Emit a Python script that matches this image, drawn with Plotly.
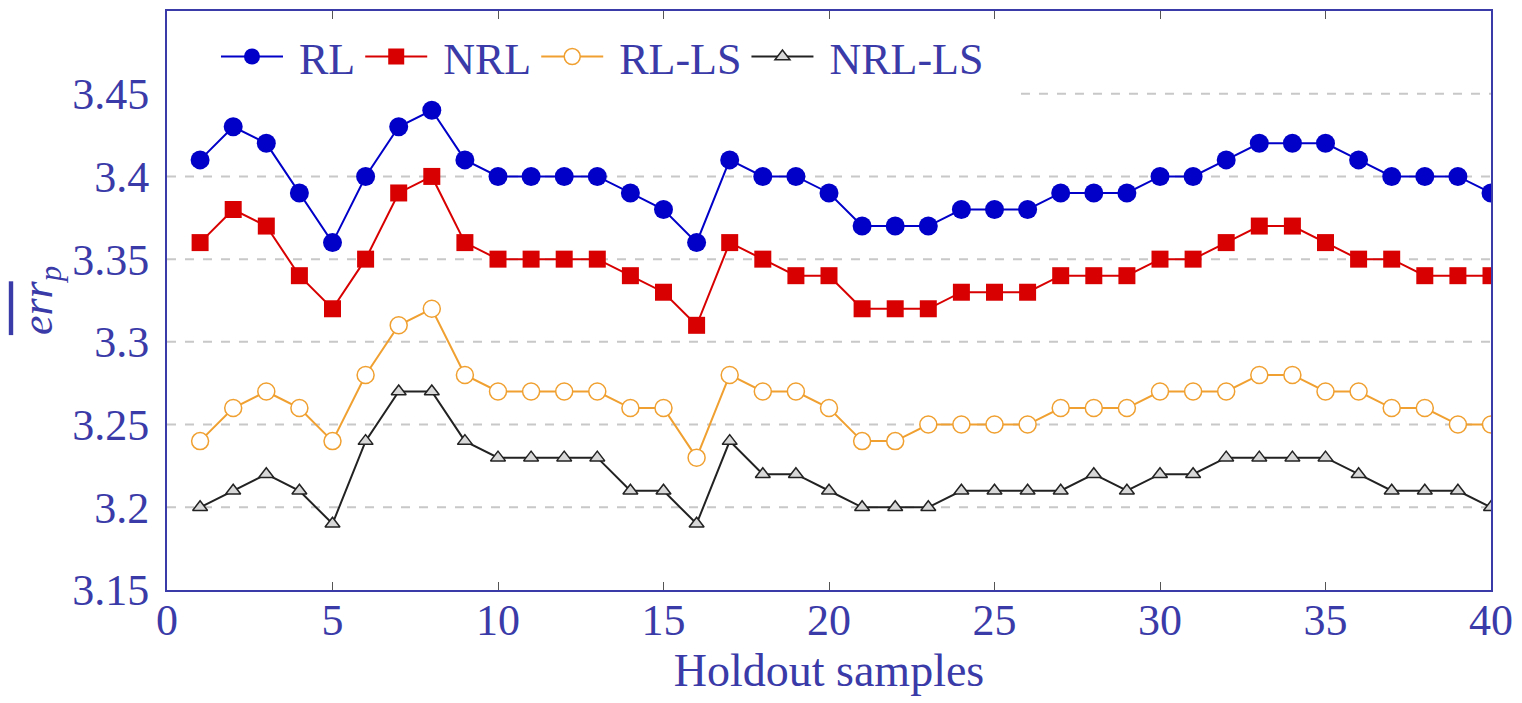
import plotly.graph_objects as go

x = list(range(1, 41))
rl = [3.41, 3.43, 3.42, 3.39, 3.36, 3.40, 3.43, 3.44, 3.41, 3.40,
      3.40, 3.40, 3.40, 3.39, 3.38, 3.36, 3.41, 3.40, 3.40, 3.39,
      3.37, 3.37, 3.37, 3.38, 3.38, 3.38, 3.39, 3.39, 3.39, 3.40,
      3.40, 3.41, 3.42, 3.42, 3.42, 3.41, 3.40, 3.40, 3.40, 3.39]
nrl = [3.36, 3.38, 3.37, 3.34, 3.32, 3.35, 3.39, 3.40, 3.36, 3.35,
       3.35, 3.35, 3.35, 3.34, 3.33, 3.31, 3.36, 3.35, 3.34, 3.34,
       3.32, 3.32, 3.32, 3.33, 3.33, 3.33, 3.34, 3.34, 3.34, 3.35,
       3.35, 3.36, 3.37, 3.37, 3.36, 3.35, 3.35, 3.34, 3.34, 3.34]
rl_ls = [3.24, 3.26, 3.27, 3.26, 3.24, 3.28, 3.31, 3.32, 3.28, 3.27,
         3.27, 3.27, 3.27, 3.26, 3.26, 3.23, 3.28, 3.27, 3.27, 3.26,
         3.24, 3.24, 3.25, 3.25, 3.25, 3.25, 3.26, 3.26, 3.26, 3.27,
         3.27, 3.27, 3.28, 3.28, 3.27, 3.27, 3.26, 3.26, 3.25, 3.25]
nrl_ls = [3.20, 3.21, 3.22, 3.21, 3.19, 3.24, 3.27, 3.27, 3.24, 3.23,
          3.23, 3.23, 3.23, 3.21, 3.21, 3.19, 3.24, 3.22, 3.22, 3.21,
          3.20, 3.20, 3.20, 3.21, 3.21, 3.21, 3.21, 3.22, 3.21, 3.22,
          3.22, 3.23, 3.23, 3.23, 3.23, 3.22, 3.21, 3.21, 3.21, 3.20]

series_names = ["RL", "NRL", "RL-LS", "NRL-LS"]
x_ticks = [0, 5, 10, 15, 20, 25, 30, 35, 40]
y_ticks = [3.15, 3.2, 3.25, 3.3, 3.35, 3.4, 3.45]
y_tick_text = ["3.15", "3.2", "3.25", "3.3", "3.35", "3.4", "3.45"]
grid_vals = [3.2, 3.25, 3.3, 3.35, 3.4, 3.45]

AX = "#3a3aa8"
FONT = "Liberation Serif"
SP = "\u00a0"

fig = go.Figure()
fig.add_trace(go.Scatter(x=x, y=rl, name=SP + series_names[0], mode="lines+markers",
                         line=dict(color="#0000c8", width=2),
                         marker=dict(symbol="circle", size=19, color="#0000c8")))
fig.add_trace(go.Scatter(x=x, y=nrl, name=SP + series_names[1], mode="lines+markers",
                         line=dict(color="#d80000", width=2),
                         marker=dict(symbol="square", size=17, color="#d80000")))
fig.add_trace(go.Scatter(x=x, y=rl_ls, name=SP + series_names[2], mode="lines+markers",
                         line=dict(color="#f0a030", width=2),
                         marker=dict(symbol="circle", size=17, color="white",
                                     line=dict(color="#f0a030", width=1.5))))
fig.add_trace(go.Scatter(x=x, y=nrl_ls, name=SP + series_names[3], mode="lines+markers",
                         line=dict(color="#222222", width=2),
                         marker=dict(symbol="triangle-up", size=13, color="#d8d8d8",
                                     line=dict(color="#222222", width=1.5))))

shapes = []
for g in grid_vals:
    shapes.append(dict(type="line", xref="paper", yref="y",
                       x0=0.645 if g == 3.45 else 0, x1=1, y0=g, y1=g,
                       line=dict(color="#c8c8c8", width=2, dash="dash"), layer="below"))

fig.update_layout(
    width=1522, height=703,
    margin=dict(l=167, r=25, t=9, b=113),
    plot_bgcolor="white", paper_bgcolor="white",
    font=dict(family=FONT, color=AX, size=44),
    shapes=shapes,
    showlegend=True,
    legend=dict(orientation="h", x=0.037, y=0.982, xanchor="left", yanchor="top",
                bgcolor="rgba(0,0,0,0)", font=dict(family=FONT, size=44, color=AX),
                itemwidth=62, tracegroupgap=0),
    xaxis=dict(range=[0, 40], tickvals=x_ticks, showgrid=False, zeroline=False,
               showline=True, linecolor=AX, linewidth=2, mirror="allticks",
               ticks="inside", ticklen=8, tickcolor="#555555", ticklabelstandoff=-10,
               tickfont=dict(family=FONT, size=44, color=AX),
               title=dict(text="Holdout samples", font=dict(family=FONT, size=46, color=AX), standoff=10)),
    yaxis=dict(range=[3.15, 3.5], tickvals=y_ticks, ticktext=y_tick_text, showgrid=False,
               zeroline=False, showline=True, linecolor=AX, linewidth=2, mirror=True,
               ticks="", ticklabelstandoff=7, tickfont=dict(family=FONT, size=44, color=AX),
               title=dict(text="<span style='text-decoration:overline'><i>err</i></span><sub><i>p</i></sub>",
                          font=dict(family=FONT, size=44, color=AX), standoff=6)),
)

fig.write_html("out.html")
